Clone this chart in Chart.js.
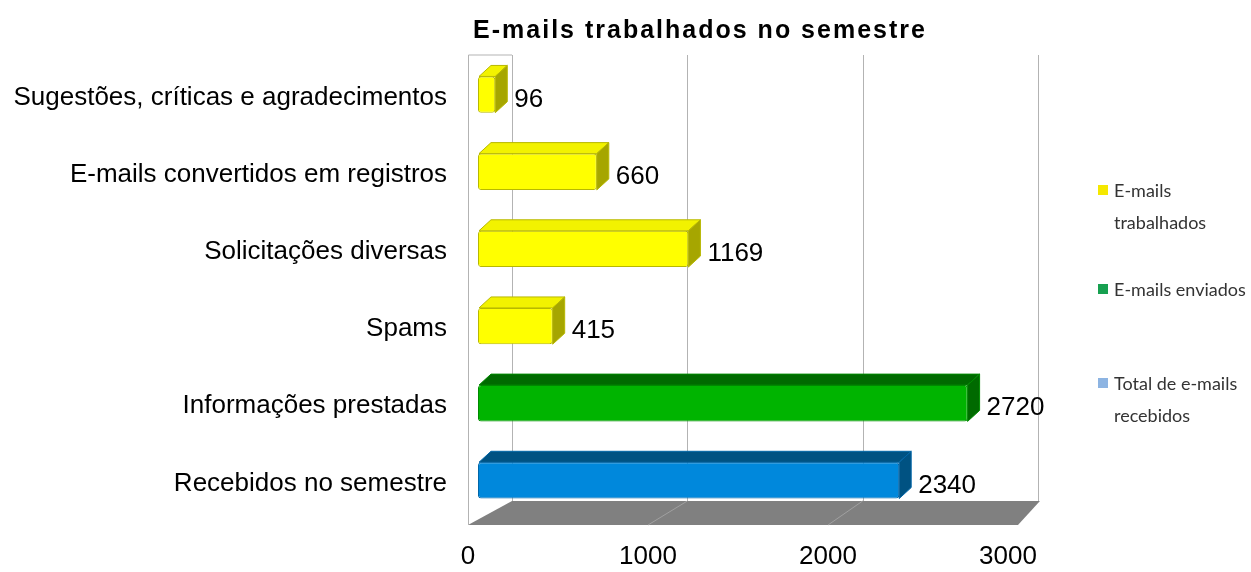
<!DOCTYPE html>
<html>
<head>
<meta charset="utf-8">
<script src="https://cdn.jsdelivr.net/npm/chart.js@4/dist/chart.umd.min.js"></script>
<style>
  body { margin: 0; background: #fff; }
  #wrap { position: relative; width: 1251px; height: 572px; }
  #legend { position: absolute; left: 1098px; top: 0; font-family: Lato, "Open Sans", sans-serif; font-size: 18px; color: #333; }
  .item { position: absolute; left: 0; white-space: nowrap; line-height: 32px; }
  .sw { position: absolute; left: 0; top: 11px; width: 10px; height: 10px; }
  .txt { position: absolute; left: 16px; top: 0; }
</style>
</head>
<body>
<div id="wrap">
  <canvas id="chart" width="1251" height="572"></canvas>
  <div id="legend"></div>
</div>
<script>
// ---- data ----
const categories = [
  "Sugestões, críticas e agradecimentos",
  "E-mails convertidos em registros",
  "Solicitações diversas",
  "Spams",
  "Informações prestadas",
  "Recebidos no semestre"
];
const trabalhados = [96, 660, 1169, 415, null, null];
const enviados = [null, null, null, null, 2720, null];
const recebidos = [null, null, null, null, null, 2340];
const xTicks = [0, 1000, 2000, 3000];
const chartTitle = "E-mails trabalhados no semestre";
const legendLabels = [["E-mails", "trabalhados"], ["E-mails enviados"], ["Total de e-mails", "recebidos"]];
const legendColors = ["#f5e800", "#17a050", "#8db4e2"];
const legendTops = [174, 273, 367];

// colours of the 3d faces: front, top, side, outline
const faces = [
  { front: "#ffff00", top: "#f2f200", side: "#a6a600", border: "#b8b800" },
  { front: "#00b400", top: "#006a00", side: "#006a00", border: "#008a00" },
  { front: "#0088dc", top: "#005282", side: "#005282", border: "#0066a8" }
];

const FONT = "'Liberation Sans', Arial, sans-serif";
const DX = 12, DY = 11;

// legend
const legendEl = document.getElementById("legend");
legendLabels.forEach((lines, i) => {
  legendEl.innerHTML += `
    <div class="item" style="top:${legendTops[i]}px">
      <div class="sw" style="background:${legendColors[i]}"></div>
      <div class="txt">${lines.join("<br>")}</div>
    </div>`;
});

// back wall grid, floor, 3d faces, values, title
const backdrop = {
  id: "backdrop",
  beforeDatasetsDraw(chart) {
    const { ctx, chartArea: a, scales: { x } } = chart;
    const left = a.left;
    const back = px => left + 34 + (px - left) * 0.974;
    const front = px => px - 10;
    const top = a.top - 1, backY = a.bottom - 18, frontY = a.bottom + 6;
    ctx.save();
    // floor
    ctx.fillStyle = "#808080";
    ctx.beginPath();
    ctx.moveTo(front(x.getPixelForValue(0)), frontY);
    ctx.lineTo(back(x.getPixelForValue(0)), backY);
    ctx.lineTo(back(x.getPixelForValue(3000)) + 2, backY);
    ctx.lineTo(front(x.getPixelForValue(3000)) + 10, frontY);
    ctx.closePath();
    ctx.fill();
    ctx.strokeStyle = "#a0a0a0";
    ctx.lineWidth = 1;
    [1000, 2000].forEach(v => {
      ctx.beginPath();
      ctx.moveTo(back(x.getPixelForValue(v)), backY);
      ctx.lineTo(front(x.getPixelForValue(v)), frontY);
      ctx.stroke();
    });
    // walls
    ctx.strokeStyle = "#b3b3b3";
    xTicks.forEach(v => {
      const bx = Math.round(back(x.getPixelForValue(v))) + 0.5;
      ctx.beginPath();
      ctx.moveTo(bx, top);
      ctx.lineTo(bx, backY);
      ctx.stroke();
    });
    const lx = Math.round(front(x.getPixelForValue(0))) + 0.5;
    ctx.beginPath();
    ctx.moveTo(lx, frontY);
    ctx.lineTo(lx, top);
    ctx.lineTo(back(x.getPixelForValue(0)), top);
    ctx.stroke();
    ctx.restore();
  },
  afterDatasetsDraw(chart) {
    const { ctx } = chart;
    ctx.save();
    chart.data.datasets.forEach((ds, di) => {
      const f = faces[di];
      chart.getDatasetMeta(di).data.forEach((bar, i) => {
        if (ds.data[i] == null) return;
        const p = bar.getProps(["x", "y", "base", "height"], true);
        const t = p.y - p.height / 2, b = p.y + p.height / 2;
        ctx.lineWidth = 1;
        ctx.strokeStyle = f.border;
        // top face
        ctx.fillStyle = f.top;
        ctx.beginPath();
        ctx.moveTo(p.base + 1, t);
        ctx.lineTo(p.base + 1 + DX, t - DY);
        ctx.lineTo(p.x + DX, t - DY);
        ctx.lineTo(p.x, t);
        ctx.closePath();
        ctx.fill();
        ctx.stroke();
        // side face
        ctx.fillStyle = f.side;
        ctx.beginPath();
        ctx.moveTo(p.x, t);
        ctx.lineTo(p.x + DX, t - DY);
        ctx.lineTo(p.x + DX, b - DY);
        ctx.lineTo(p.x, b);
        ctx.closePath();
        ctx.fill();
        ctx.stroke();
        // value
        ctx.fillStyle = "#000";
        ctx.font = "26px " + FONT;
        ctx.textAlign = "left";
        ctx.textBaseline = "middle";
        ctx.fillText(String(ds.data[i]), p.x + 19, p.y + 5);
      });
    });
    // title
    ctx.fillStyle = "#000";
    ctx.font = "bold 25px " + FONT;
    ctx.letterSpacing = "2px";
    ctx.textAlign = "center";
    ctx.textBaseline = "middle";
    ctx.fillText(chartTitle, 700, 31);
    ctx.restore();
  }
};

const mkSet = (label, data, i) => ({
  label,
  data,
  backgroundColor: faces[i].front,
  borderColor: faces[i].border,
  borderWidth: 1,
  borderRadius: 3,
  borderSkipped: false,
  barPercentage: 0.47,
  categoryPercentage: 1
});

new Chart(document.getElementById("chart"), {
  type: "bar",
  data: {
    labels: categories,
    datasets: [
      mkSet("E-mails trabalhados", trabalhados, 0),
      mkSet("E-mails enviados", enviados, 1),
      mkSet("Total de e-mails recebidos", recebidos, 2)
    ]
  },
  options: {
    indexAxis: "y",
    responsive: false,
    animation: false,
    layout: { padding: { top: 56, right: 233, bottom: 0, left: 0 } },
    plugins: { legend: { display: false }, title: { display: false }, tooltip: { enabled: false } },
    scales: {
      x: {
        stacked: true,
        min: 0, max: 3000,
        afterBuildTicks: s => { s.ticks = xTicks.map(v => ({ value: v })); },
        afterFit: s => { s.height = 53; },
        grid: { display: false, drawTicks: false },
        border: { display: false },
        ticks: { color: "#000", font: { family: FONT, size: 26 }, padding: 22, labelOffset: -10,
                 callback: v => String(v) }
      },
      y: {
        stacked: true,
        grid: { display: false, drawTicks: false },
        border: { display: false },
        afterFit: s => { s.width = 478; },
        ticks: { color: "#000", font: { family: FONT, size: 26 }, padding: 31, labelOffset: 3 }
      }
    }
  },
  plugins: [backdrop]
});
</script>
</body>
</html>
